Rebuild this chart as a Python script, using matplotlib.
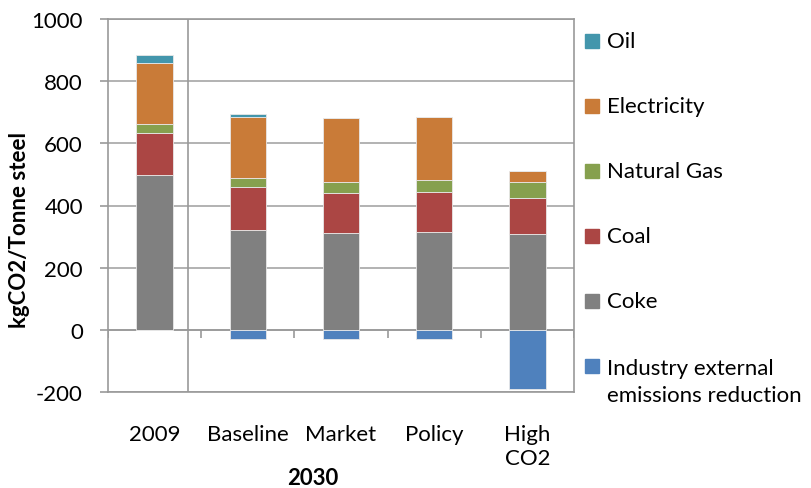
import numpy as np
import matplotlib.pyplot as plt
from matplotlib.patches import Rectangle

plt.rcParams['font.family'] = ['Lato', 'DejaVu Sans']
plt.rcParams['axes.unicode_minus'] = False

# scenarios et émissions par source (kgCO2 / tonne d'acier)
categories = ['2009', 'Baseline', 'Market', 'Policy', 'High\nCO2']
coke = [497, 322, 311, 315, 308]
coal = [137, 137, 128, 127, 117]
gas = [27, 30, 37, 41, 49]
electricity = [199, 196, 205, 202, 36]
oil = [23, 9, 0, 0, 0]
industry_ext = [0, -28, -28, -28, -191]

series = [
    ('Coke', coke, '#808080'),
    ('Coal', coal, '#AB4644'),
    ('Natural Gas', gas, '#86A04E'),
    ('Electricity', electricity, '#C97B38'),
    ('Oil', oil, '#4396AC'),
]
ext_label = 'Industry external\nemissions reduction'
ext_color = '#4F81BD'

W, H = 812, 489
FS = 16
fig = plt.figure(figsize=(W / 100, H / 100), dpi=100)
ax = fig.add_axes([108 / W, 1 - 393 / H, (574 - 108) / W, (393 - 20) / H])

x = np.arange(len(categories))
width = 0.39
bottom = np.zeros(len(categories))
for name, vals, col in series:
    ax.bar(x, vals, width, bottom=bottom, color=col, edgecolor='#e8e8e8',
           linewidth=0.6, zorder=3)
    bottom += np.array(vals)
ax.bar(x, industry_ext, width, color=ext_color, edgecolor='#e8e8e8',
       linewidth=0.6, zorder=3)

ax.set_xlim(-0.5, len(categories) - 0.5)
ax.set_ylim(-200, 1000)
ax.set_yticks(np.arange(-200, 1001, 200))
ax.grid(axis='y', color='#a6a6a6', linewidth=1.2, zorder=0)
ax.set_axisbelow(True)

for s in ax.spines.values():
    s.set_color('#999999')
    s.set_linewidth(1.2)

ax.tick_params(axis='y', length=6, color='#999999', width=1.2,
               labelsize=FS, pad=12)
ax.set_xticks(x)
ax.set_xticklabels(categories, fontsize=FS, linespacing=1.25)
ax.tick_params(axis='x', length=0, pad=23)

# ligne du zéro avec graduations entre catégories
ax.axhline(0, color='#999999', linewidth=1.2, zorder=2)
bounds = np.arange(-0.5, len(categories))
ax.vlines(bounds, -25, 0, color='#999999', linewidth=1.2, zorder=2)
# séparation 2009 / 2030
ax.axvline(0.36, color='#999999', linewidth=1.2, zorder=2)

fig.text(20 / W, 1 - 230 / H, 'kgCO2/Tonne steel', rotation=90,
         ha='center', va='center', fontsize=FS, fontweight='bold')
fig.text(313 / W, 1 - 479 / H, '2030', ha='center', va='center',
         fontsize=FS, fontweight='bold')

# légende dessinée à la main
entries = [(n, c) for n, v, c in series[::-1]] + [(ext_label, ext_color)]
for i, (name, col) in enumerate(entries):
    yc = 42 + i * 65
    fig.add_artist(Rectangle((585 / W, 1 - (yc + 7) / H), 14 / W, 14 / H,
                             color=col, transform=fig.transFigure))
    ty = yc if '\n' not in name else yc + 15.5
    fig.text(607 / W, 1 - ty / H, name, ha='left', va='center', fontsize=FS,
             linespacing=1.4)

fig.savefig('out.png', dpi=100)
